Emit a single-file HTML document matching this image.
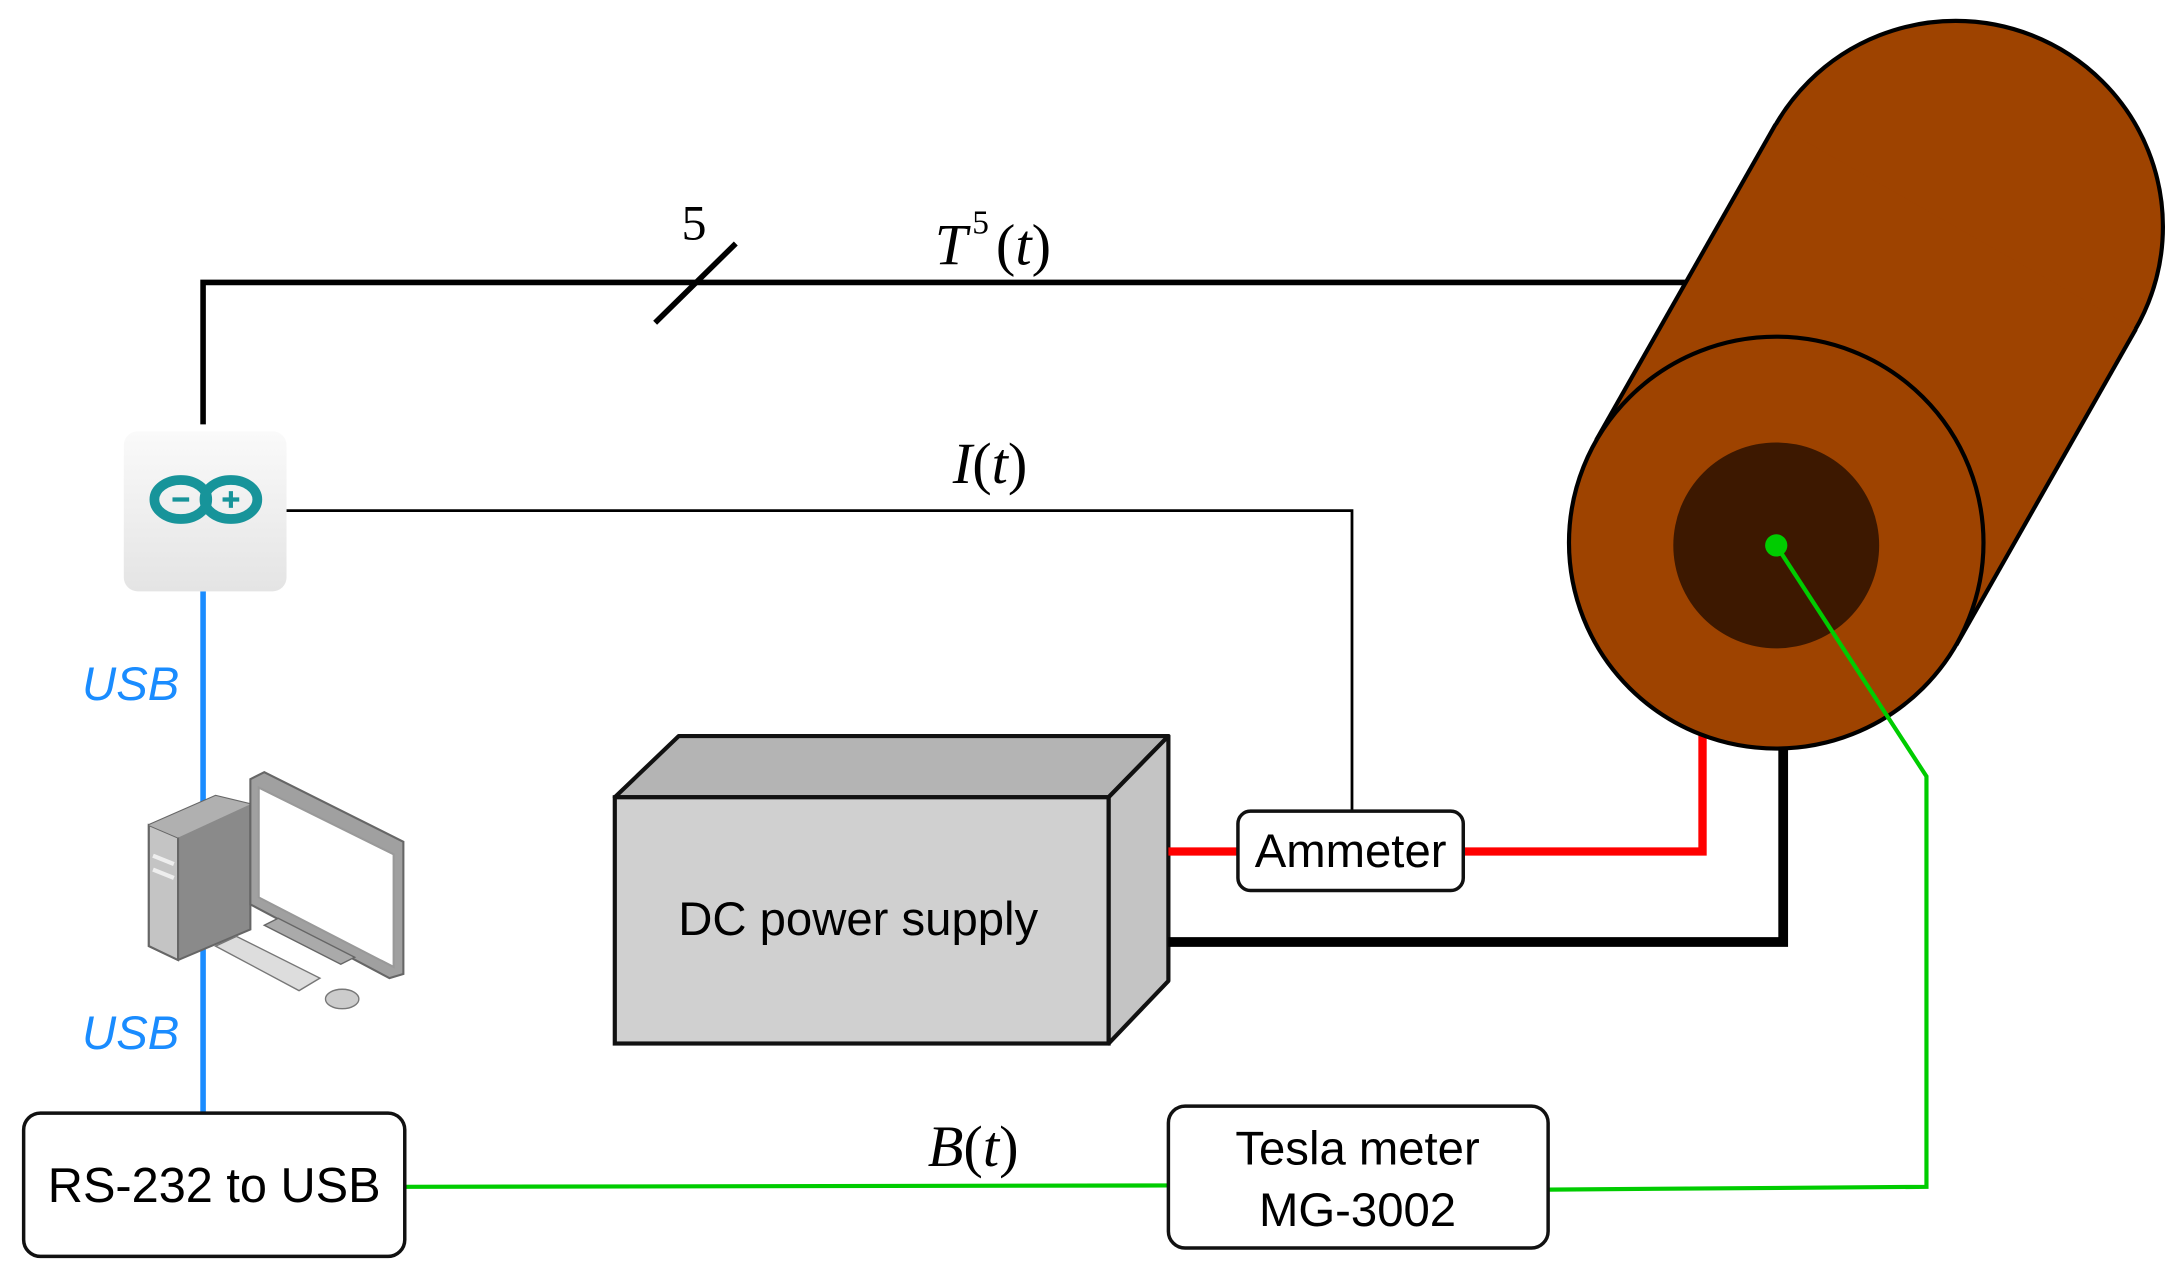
<!DOCTYPE html>
<html><head><meta charset="utf-8"><style>
html,body{margin:0;padding:0;background:#fff;}
svg{display:block;}
</style></head><body>
<svg width="2181" height="1287" viewBox="0 0 1568 925" preserveAspectRatio="none" xmlns="http://www.w3.org/2000/svg">
<defs>
<linearGradient id="ard" x1="0" y1="0" x2="0" y2="1">
<stop offset="0" stop-color="#fafafa"/><stop offset="1" stop-color="#e4e4e4"/>
</linearGradient>
</defs>
<polyline points="146,305 146,203 1215,203" fill="none" stroke="#000" stroke-width="4"/>
<line x1="471" y1="232" x2="529" y2="175" stroke="#000" stroke-width="4"/>
<text x="490" y="172" font-family="Liberation Serif, serif" font-size="36">5</text>
<text x="672" y="190" font-family="Liberation Serif, serif" font-style="italic" font-size="42">T</text>
<text x="699" y="168" font-family="Liberation Serif, serif" font-size="24">5</text>
<text x="716" y="190" font-family="Liberation Serif, serif" font-size="42">(<tspan font-style="italic">t</tspan>)</text>
<polyline points="206,367 972,367 972,583" fill="none" stroke="#000" stroke-width="2"/>
<text x="685" y="347" font-family="Liberation Serif, serif" font-size="42"><tspan font-style="italic">I</tspan>(<tspan font-style="italic">t</tspan>)</text>
<line x1="146" y1="425" x2="146" y2="800" stroke="#1a8cff" stroke-width="4"/>
<text x="59" y="503" font-family="Liberation Sans, sans-serif" font-style="italic" font-size="34" fill="#1a8cff">USB</text>
<text x="59" y="754" font-family="Liberation Sans, sans-serif" font-style="italic" font-size="34" fill="#1a8cff">USB</text>
<rect x="89" y="310" width="117" height="115" rx="10" fill="url(#ard)"/>
<ellipse cx="130" cy="359" rx="19" ry="14" fill="none" stroke="#17949a" stroke-width="7"/>
<ellipse cx="166" cy="359" rx="19" ry="14" fill="none" stroke="#17949a" stroke-width="7"/>
<line x1="124" y1="359" x2="136" y2="359" stroke="#17949a" stroke-width="3"/>
<line x1="160" y1="359" x2="172" y2="359" stroke="#17949a" stroke-width="3"/>
<line x1="166" y1="353" x2="166" y2="365" stroke="#17949a" stroke-width="3"/>
<polygon points="107,593 155,572 180,578 180,668 128,690 107,680" fill="#8a8a8a" stroke="#666" stroke-width="1.5"/>
<polygon points="107,593 128,602 128,690 107,680" fill="#c4c4c4" stroke="#666" stroke-width="1.5"/>
<polygon points="107,593 155,572 180,578 128,602" fill="#b0b0b0"/>
<line x1="110" y1="615" x2="125" y2="621" stroke="#eee" stroke-width="3"/>
<line x1="110" y1="625" x2="125" y2="631" stroke="#eee" stroke-width="3"/>
<polygon points="180,560 190,555 290,605 290,700 280,703 180,650" fill="#a0a0a0" stroke="#666" stroke-width="1.5"/>
<polygon points="186,566 283,614 283,695 186,645" fill="#fff" stroke="#999" stroke-width="1.5"/>
<polygon points="190,665 200,660 255,688 245,693" fill="#aaa" stroke="#666"/>
<polygon points="155,680 170,673 230,703 215,712" fill="#ddd" stroke="#777"/>
<ellipse cx="246" cy="718" rx="12" ry="7" fill="#ccc" stroke="#777"/>
<polygon points="442,573 488,529 840,529 797,573" fill="#b4b4b4" stroke="#111" stroke-width="3" stroke-linejoin="round"/>
<polygon points="797,573 840,529 840,705 797,750" fill="#c4c4c4" stroke="#111" stroke-width="3" stroke-linejoin="round"/>
<rect x="442" y="573" width="355" height="177" fill="#d0d0d0" stroke="#111" stroke-width="3"/>
<text x="617" y="672" text-anchor="middle" font-family="Liberation Sans, sans-serif" font-size="34">DC power supply</text>
<line x1="840" y1="612" x2="890" y2="612" stroke="#ff0000" stroke-width="6"/>
<polyline points="1052,612 1224,612 1224,525" fill="none" stroke="#ff0000" stroke-width="6"/>
<polyline points="840,677 1282,677 1282,530" fill="none" stroke="#000" stroke-width="7"/>
<rect x="890" y="583" width="162" height="57" rx="9" fill="#fff" stroke="#111" stroke-width="2.5"/>
<text x="971" y="623" text-anchor="middle" font-family="Liberation Sans, sans-serif" font-size="34">Ammeter</text>
<ellipse cx="1406" cy="163" rx="149" ry="148" fill="#9e4300" stroke="#000" stroke-width="3"/>
<polygon points="1147.5,316.4 1276.5,89.4 1535.5,236.6 1406.5,463.6" fill="#9e4300"/>
<line x1="1147.5" y1="316.4" x2="1276.5" y2="89.4" stroke="#000" stroke-width="3"/>
<line x1="1535.5" y1="236.6" x2="1406.5" y2="463.6" stroke="#000" stroke-width="3"/>
<ellipse cx="1277" cy="390" rx="149" ry="148" fill="#9e4300" stroke="#000" stroke-width="3"/>
<ellipse cx="1277" cy="392" rx="74" ry="74" fill="#3d1800"/>
<polyline points="1277,392 1385,558 1385,853 1113,855" fill="none" stroke="#00cc00" stroke-width="3"/>
<circle cx="1277" cy="392" r="8" fill="#00cc00"/>
<line x1="291" y1="853" x2="840" y2="852" stroke="#00cc00" stroke-width="3"/>
<text x="667" y="838" font-family="Liberation Serif, serif" font-size="42"><tspan font-style="italic">B</tspan>(<tspan font-style="italic">t</tspan>)</text>
<rect x="17" y="800" width="274" height="103" rx="12" fill="#fff" stroke="#111" stroke-width="2.5"/>
<text x="154" y="864" text-anchor="middle" font-family="Liberation Sans, sans-serif" font-size="35">RS-232 to USB</text>
<rect x="840" y="795" width="273" height="102" rx="12" fill="#fff" stroke="#111" stroke-width="2.5"/>
<text x="976" y="837" text-anchor="middle" font-family="Liberation Sans, sans-serif" font-size="34">Tesla meter</text>
<text x="976" y="881" text-anchor="middle" font-family="Liberation Sans, sans-serif" font-size="34">MG-3002</text>
</svg>
</body></html>
